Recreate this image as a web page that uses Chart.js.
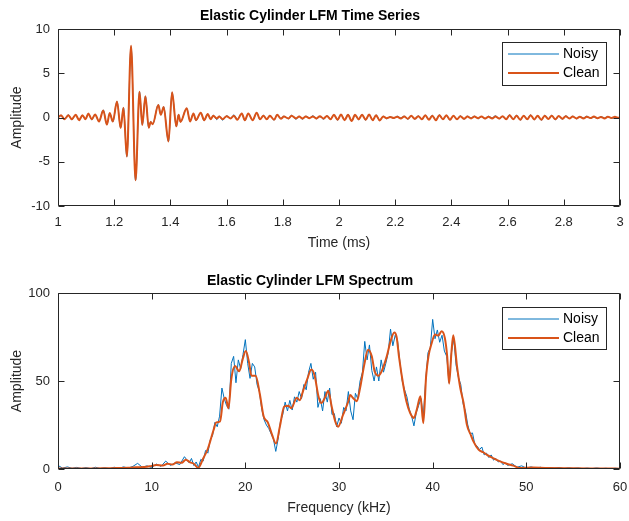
<!DOCTYPE html>
<html>
<head>
<meta charset="utf-8">
<script src="https://cdn.jsdelivr.net/npm/chart.js@4.4.1/dist/chart.umd.min.js"></script>
<style>
html, body { margin: 0; padding: 0; background: #fff; }
#wrap { position: relative; width: 629px; height: 521px; }
.panel { position: absolute; left: 0; width: 629px; }
#top { top: 0; height: 260px; }
#bot { top: 260px; height: 261px; }
</style>
</head>
<body>
<div id="wrap">
  <div class="panel" id="top"><canvas id="timeChart"></canvas></div>
  <div class="panel" id="bot"><canvas id="specChart"></canvas></div>
</div>
<script>
// ---- time series (ms / amplitude) ----
const timeMs = [
  1.000, 1.011, 1.023, 1.037, 1.049, 1.063, 1.075, 1.087, 1.098, 1.108,
  1.120, 1.132, 1.146, 1.161, 1.174, 1.184, 1.195, 1.210, 1.223, 1.233,
  1.245, 1.260, 1.276, 1.290, 1.300, 1.311, 1.323, 1.330, 1.337, 1.357,
  1.366, 1.376, 1.393, 1.406, 1.421, 1.429, 1.436, 1.458,
  1.470, 1.482, 1.491, 1.508, 1.520, 1.533, 1.543, 1.553, 1.565, 1.574,
  1.586, 1.600, 1.614, 1.626, 1.638, 1.654, 1.665, 1.677, 1.693, 1.707,
  1.719, 1.731, 1.743, 1.754, 1.769, 1.780, 1.793, 1.804, 1.820, 1.831,
  1.847, 1.858,
  1.870, 1.882, 1.895, 1.907, 1.920, 1.932, 1.945, 1.957, 1.970, 1.982,
  1.995, 2.007, 2.020, 2.032, 2.045, 2.057, 2.070, 2.082, 2.095, 2.107,
  2.120, 2.132, 2.145, 2.157, 2.170, 2.182, 2.195, 2.207, 2.220, 2.232,
  2.245, 2.257, 2.270, 2.282, 2.295, 2.307, 2.320, 2.332, 2.345, 2.357,
  2.370, 2.382, 2.395, 2.407, 2.420, 2.432, 2.445, 2.457, 2.470, 2.482,
  2.495, 2.507, 2.520, 2.532, 2.545, 2.557, 2.570, 2.582, 2.595, 2.607,
  2.620, 2.632, 2.645, 2.657, 2.670, 2.682, 2.695, 2.707, 2.720, 2.732,
  2.745, 2.757, 2.770, 2.782, 2.795, 2.807, 2.820, 2.832, 2.845, 2.857,
  2.870, 2.882, 2.895, 2.907, 2.920, 2.932, 2.945, 2.957, 2.970, 2.982,
  2.995, 3.000
];
const cleanSig = [
  0.0, 0.25, -0.2, 0.25, -0.2, 0.3, -0.3, 0.25, -0.2, 0.45,
  -0.2, 0.35, -0.45, 0.8, -0.8, 0.5, -0.45, 1.8, -1.2, 1.1,
  -4.4, 8.1, -7.1, 2.9, -0.85, 2.4, -1.15, -0.5, -0.75, 1.4,
  0.3, 1.2, -2.7, 2.85, -1.0, 0.3, -0.5, 1.05,
  -0.45, 0.45, -0.3, 0.55, -0.3, 0.4, -0.2, 0.2, -0.1, 0.1,
  -0.2, 0.15, -0.1, 0.2, -0.25, 0.45, -0.3, 0.45, -0.3, 0.55,
  -0.2, 0.2, -0.2, 0.2, -0.25, 0.3, -0.15, 0.1, -0.1, 0.2,
  -0.1, 0.1,
  -0.12, 0.1, -0.08, 0.12, -0.1, 0.15, -0.12, 0.18, -0.2, 0.3,
  -0.25, 0.35, -0.3, 0.3, -0.4, 0.3, -0.2, 0.3, -0.25, 0.35,
  -0.3, 0.25, -0.35, 0.1, -0.08, 0.05, -0.05, 0.08, -0.1, 0.12,
  -0.15, 0.2, -0.15, 0.15, -0.2, 0.25, -0.25, 0.2, -0.3, 0.25,
  -0.2, 0.25, -0.25, 0.2, -0.2, 0.15, -0.15, 0.1, -0.1, 0.1,
  -0.08, 0.12, -0.1, 0.08, -0.1, 0.12, -0.12, 0.15, -0.2, 0.25,
  -0.2, 0.2, -0.25, 0.2, -0.2, 0.25, -0.22, 0.2, -0.25, 0.2,
  -0.18, 0.2, -0.2, 0.18, -0.15, 0.15, -0.12, 0.1, -0.1, 0.08,
  -0.1, 0.08, -0.06, 0.1, -0.08, 0.06, -0.1, 0.08, -0.06, 0.08,
  -0.04, 0.0
];
const noisySig = [
  0.05, 0.2, -0.15, 0.3, -0.25, 0.3, -0.25, 0.2, -0.15, 0.45,
  -0.25, 0.3, -0.4, 0.85, -0.8, 0.5, -0.5, 1.8, -1.15, 1.1,
  -4.4, 8.0, -7.1, 2.9, -0.8, 2.4, -1.15, -0.45, -0.75, 1.45,
  0.3, 1.2, -2.7, 2.8, -1.0, 0.35, -0.5, 1.05,
  -0.4, 0.45, -0.35, 0.55, -0.35, 0.4, -0.15, 0.25, -0.25, 0.15,
  -0.3, 0.2, -0.1, 0.3, -0.2, 0.45, -0.35, 0.4, -0.3, 0.55,
  -0.25, 0.25, -0.2, 0.25, -0.3, 0.35, -0.1, 0.15, -0.15, 0.25,
  -0.2, 0.15,
  -0.2, 0.15, -0.05, 0.2, -0.15, 0.1, -0.2, 0.2, -0.15, 0.3,
  -0.3, 0.3, -0.3, 0.35, -0.4, 0.25, -0.25, 0.35, -0.3, 0.3,
  -0.3, 0.3, -0.35, 0.15, -0.15, 0.1, -0.1, 0.15, -0.05, 0.15,
  -0.2, 0.15, -0.2, 0.2, -0.25, 0.25, -0.2, 0.25, -0.3, 0.3,
  -0.2, 0.2, -0.3, 0.2, -0.15, 0.2, -0.2, 0.15, -0.05, 0.15,
  -0.15, 0.1, -0.15, 0.15, -0.05, 0.2, -0.15, 0.1, -0.2, 0.3,
  -0.15, 0.25, -0.3, 0.2, -0.15, 0.3, -0.25, 0.15, -0.3, 0.25,
  -0.15, 0.25, -0.25, 0.15, -0.2, 0.2, -0.1, 0.15, -0.15, 0.1,
  -0.05, 0.15, -0.1, 0.05, -0.12, 0.1, -0.05, 0.12, -0.1, 0.05,
  -0.08, 0.05
];
const timeTicks = [1, 1.2, 1.4, 1.6, 1.8, 2, 2.2, 2.4, 2.6, 2.8, 3];
const ampTicks = [-10, -5, 0, 5, 10];

// ---- spectrum (kHz / amplitude) ----
const freqClean = [
  0, 2, 4, 5, 6.3, 7.5, 8.4, 9.2, 9.8, 10.5,
  11.2, 11.7, 12.2, 12.7, 13.2, 13.65, 14.1, 14.5, 14.97, 15.5,
  16.0, 16.6, 16.9, 17.3, 17.6, 17.9, 18.2, 18.5, 18.9, 19.35,
  19.7, 20.05, 20.4, 20.65, 21.1, 21.55, 21.95, 22.4, 22.85, 23.27,
  23.7, 24.15, 24.6, 24.9, 25.5, 25.8, 26.2, 26.6, 27.05, 27.4,
  27.8, 28.1, 28.5, 28.85, 29.2, 29.6, 29.9, 30.45, 31.0, 31.2,
  31.5, 31.9, 32.25, 32.7, 33.1, 33.5, 33.8, 34.2, 34.55, 35.1,
  35.5, 35.9, 36.15, 36.4, 36.85, 37.2, 37.6, 38.0, 38.3, 38.7,
  39.0, 39.3, 39.55, 39.9, 40.25, 40.6, 40.95, 41.3, 41.55, 41.76,
  42.0, 42.2, 42.6, 42.95, 43.3, 43.65, 44.1, 44.35, 44.9, 45.4,
  45.8, 46.45, 47.2, 47.9, 48.6, 49.3, 50.7, 52, 55, 58,
  60
];
const specClean = [
  0.3, 0.3, 0.3, 0.4, 0.6, 0.7, 1.0, 1.1, 1.5, 2.3,
  2.0, 3.0, 2.5, 3.8, 3.5, 5.3, 3.8, 3.0, 0.6, 6.0,
  11.5, 22, 26.5, 27, 38, 40.5, 34.5, 51, 58.5, 55.5,
  62, 67, 60.5, 53, 53, 42.5, 30, 26.5, 19.5, 14.5,
  24.5, 35.5, 36, 34.5, 40.5, 39, 45, 51, 56.5, 53,
  41.5, 37.5, 40.5, 44.5, 36, 27, 24, 31, 38.5, 42,
  40.3, 38.5, 46, 59.3, 67.8, 64, 55.5, 53, 55.5, 64,
  72.5, 77.6, 75, 64, 48, 38.4, 31.8, 29, 33.7, 41.3,
  26, 52.6, 64, 71.6, 76.4, 75.8, 78.2, 74.4, 64, 48.5,
  66, 76, 58.3, 46, 37.5, 25.2, 19, 15.7, 11, 9.5,
  8, 6.2, 4.3, 3, 1.9, 0.6, 0.8, 0.6, 0.4, 0.3,
  0.2
];
const freqNoisy = [
  0, 0.5, 1, 1.5, 2, 2.5, 3, 3.5, 4, 4.5,
  5, 5.5, 6, 6.5, 7, 7.5, 8, 8.5, 9, 9.5,
  10, 10.5, 11, 11.5, 12, 12.5, 13, 13.5, 14, 14.25,
  14.5, 14.75, 15, 15.25, 15.5, 15.75, 16, 16.25, 16.5, 16.75,
  17, 17.25, 17.5, 17.75, 18, 18.25, 18.5, 18.75, 19, 19.25,
  19.5, 19.75, 20, 20.25, 20.5, 20.75, 21, 21.25, 21.5, 21.75,
  22, 22.25, 22.5, 22.75, 23, 23.25, 23.5, 23.75, 24, 24.25,
  24.5, 24.75, 25, 25.25, 25.5, 25.75, 26, 26.25, 26.5, 26.75,
  27, 27.25, 27.5, 27.75, 28, 28.25, 28.5, 28.75, 29, 29.25,
  29.5, 29.75, 30, 30.25, 30.5, 30.75, 31, 31.25, 31.5, 31.75,
  32, 32.25, 32.5, 32.75, 33, 33.25, 33.5, 33.75, 34, 34.25,
  34.5, 34.75, 35, 35.25, 35.5, 35.75, 36, 36.25, 36.5, 36.75,
  37, 37.25, 37.5, 37.75, 38, 38.25, 38.5, 38.75, 39, 39.25,
  39.5, 39.75, 40, 40.25, 40.5, 40.75, 41, 41.25, 41.5, 41.75,
  42, 42.25, 42.5, 42.75, 43, 43.25, 43.5, 43.75, 44, 44.25,
  44.5, 44.75, 45, 45.25, 45.5, 45.75, 46, 46.25, 46.5, 46.75,
  47, 47.25, 47.5, 47.75, 48, 48.5, 49, 49.5, 50, 50.5,
  51, 51.5, 52, 52.5, 53, 53.5, 54, 54.5, 55, 55.5,
  56, 56.5, 57, 57.5, 58, 58.5, 59, 59.5, 60
];
const specNoisy = [
  2.0, 0.5, 1.2, 0.4, 0.9, 0.3, 0.8, 0.2, 1.0, 0.3,
  0.7, 0.2, 1.0, 0.4, 1.2, 0.5, 1.5, 3.2, 1.0, 1.8,
  0.8, 2.8, 1.5, 4.5, 2.0, 3.5, 2.5, 7.0, 3.5, 6.0,
  2.0, 4.0, 1.0, 5.5, 4.5, 10.5, 9.0, 16.5, 19.0, 26.5,
  24.0, 30.0, 46.0, 40.0, 36.0, 34.0, 60.0, 64.0, 49.0, 62.0,
  57.0, 65.0, 73.5, 60.0, 51.5, 60.0, 58.0, 48.0, 44.0, 34.0,
  28.0, 25.0, 23.0, 20.0, 17.0, 10.0, 17.0, 27.0, 31.0, 38.0,
  33.0, 39.0, 33.5, 41.0, 38.0, 44.0, 40.0, 48.0, 45.0, 55.0,
  60.0, 51.0, 55.0, 35.0, 40.0, 33.0, 44.0, 38.0, 46.0, 31.0,
  31.5, 24.0, 29.0, 26.0, 35.0, 33.0, 44.0, 33.0, 28.0, 43.0,
  40.0, 50.0, 55.0, 72.5, 62.0, 70.5, 56.0, 50.0, 58.0, 50.0,
  62.0, 55.0, 60.0, 66.0, 79.5, 70.0, 76.0, 73.0, 61.0, 50.0,
  45.0, 41.0, 34.0, 30.0, 24.5, 32.0, 36.0, 40.0, 30.0, 50.0,
  66.0, 69.0, 85.0, 74.0, 79.0, 72.0, 76.0, 67.0, 64.0, 49.0,
  66.0, 74.0, 59.0, 52.0, 48.0, 37.0, 33.0, 25.0, 20.0, 20.5,
  14.0, 13.0, 11.0, 12.5, 8.0, 9.0, 6.5, 8.0, 5.0, 6.0,
  4.0, 4.5, 2.5, 3.5, 2.0, 3.0, 1.0, 1.8, 0.5, 1.2,
  0.4, 1.0, 0.3, 0.8, 0.5, 0.9, 0.2, 0.7, 0.3, 0.6,
  0.2, 0.5, 0.2, 0.6, 0.2, 0.4, 0.1, 0.4, 0.2
];
const freqTicks = [0, 10, 20, 30, 40, 50, 60];
const specAmpTicks = [0, 50, 100];

const BLUE = '#0072BD';
const ORANGE = '#D95319';
const AXIS = '#262626';
const FONT = '"Liberation Sans", Arial, Helvetica, sans-serif';

Chart.defaults.font.family = FONT;
Chart.defaults.color = AXIS;

function pairs(xs, ys) {
  return xs.map((x, i) => ({ x: x, y: ys[i] }));
}

// box round the axes, inward ticks on all four sides, legend inside the axes
const matlabAxes = {
  id: 'matlabAxes',
  afterDraw(chart, args, opts) {
    const { ctx, chartArea: a, scales } = chart;
    const L = Math.round(a.left) + 0.5, R = Math.round(a.right) - 0.5;
    const T = Math.round(a.top) + 0.5, B = Math.round(a.bottom) - 0.5;
    const tl = 6;
    ctx.save();
    ctx.strokeStyle = AXIS;
    ctx.lineWidth = 1;
    ctx.beginPath();
    ctx.rect(L, T, R - L, B - T);
    scales.x.ticks.forEach(t => {
      const px = Math.round(scales.x.getPixelForValue(t.value)) + 0.5;
      ctx.moveTo(px, B); ctx.lineTo(px, B - tl);
      ctx.moveTo(px, T); ctx.lineTo(px, T + tl);
    });
    scales.y.ticks.forEach(t => {
      const py = Math.round(scales.y.getPixelForValue(t.value)) + 0.5;
      ctx.moveTo(L, py); ctx.lineTo(L + tl, py);
      ctx.moveTo(R, py); ctx.lineTo(R - tl, py);
    });
    ctx.stroke();

    const lg = opts.legend;
    ctx.fillStyle = '#fff';
    ctx.fillRect(lg.left, lg.top, lg.width, lg.height);
    ctx.strokeRect(lg.left + 0.5, lg.top + 0.5, lg.width, lg.height);
    ctx.font = '14px ' + FONT;
    ctx.textBaseline = 'middle';
    ctx.textAlign = 'left';
    chart.data.datasets.forEach((ds, i) => {
      const yy = lg.top + lg.rows[i];
      ctx.strokeStyle = ds.borderColor;
      ctx.lineWidth = ds.borderWidth;
      ctx.beginPath();
      ctx.moveTo(lg.left + 6, yy);
      ctx.lineTo(lg.left + 57, yy);
      ctx.stroke();
      ctx.fillStyle = '#000';
      ctx.fillText(ds.label, lg.left + 61, yy);
    });
    ctx.restore();
  }
};

function axisOpts(tickList, min, max, pad, extra) {
  return Object.assign({
    type: 'linear',
    min: min,
    max: max,
    afterBuildTicks: s => { s.ticks = tickList.map(v => ({ value: v })); },
    grid: { display: false, drawTicks: false },
    border: { display: false },
    ticks: { font: { size: 13 }, color: AXIS, padding: pad, maxRotation: 0, autoSkip: false,
             callback: v => String(v) }
  }, extra);
}

// fixed box sizes so the plot area lands where the reference has it
function fixX(h) {
  return s => { s.height = h; s.paddingLeft = 0; s.paddingRight = 0; };
}
function fixY(w) {
  return s => { s.width = w; s.paddingTop = 0; s.paddingBottom = 0; };
}

new Chart(document.getElementById('timeChart'), {
  type: 'line',
  data: {
    datasets: [
      { label: 'Noisy', data: pairs(timeMs, noisySig), borderColor: BLUE, borderWidth: 1,
        pointRadius: 0, cubicInterpolationMode: 'monotone', order: 1 },
      { label: 'Clean', data: pairs(timeMs, cleanSig), borderColor: ORANGE, borderWidth: 2,
        pointRadius: 0, cubicInterpolationMode: 'monotone', order: 0 }
    ]
  },
  options: {
    responsive: true,
    maintainAspectRatio: false,
    animation: false,
    devicePixelRatio: 1,
    layout: { padding: { left: 0, right: 9, top: 0, bottom: 0 } },
    plugins: {
      legend: { display: false },
      tooltip: { enabled: false },
      title: { display: true, text: 'Elastic Cylinder LFM Time Series', color: '#000',
               font: { size: 14, weight: 'bold' }, padding: { top: 8, bottom: 4.2 } },
      matlabAxes: { legend: { left: 502, top: 42, width: 104, height: 43, rows: [12, 31] } }
    },
    scales: {
      x: axisOpts(timeTicks, 1, 3, 9, {
        afterFit: fixX(54),
        title: { display: true, text: 'Time (ms)', color: AXIS, font: { size: 14 }, padding: { bottom: 8 } }
      }),
      y: axisOpts(ampTicks, -10, 10, 8, {
        afterFit: fixY(58),
        title: { display: true, text: 'Amplitude', color: AXIS, font: { size: 14 }, padding: { top: 9 } }
      })
    }
  },
  plugins: [matlabAxes]
});

new Chart(document.getElementById('specChart'), {
  type: 'line',
  data: {
    datasets: [
      { label: 'Noisy', data: pairs(freqNoisy, specNoisy), borderColor: BLUE, borderWidth: 1,
        pointRadius: 0, tension: 0, order: 1 },
      { label: 'Clean', data: pairs(freqClean, specClean), borderColor: ORANGE, borderWidth: 2,
        pointRadius: 0, cubicInterpolationMode: 'monotone', order: 0 }
    ]
  },
  options: {
    responsive: true,
    maintainAspectRatio: false,
    animation: false,
    devicePixelRatio: 1,
    layout: { padding: { left: 0, right: 9, top: 0, bottom: 0 } },
    plugins: {
      legend: { display: false },
      tooltip: { enabled: false },
      title: { display: true, text: 'Elastic Cylinder LFM Spectrum', color: '#000',
               font: { size: 14, weight: 'bold' }, padding: { top: 12.6, bottom: 3.6 } },
      matlabAxes: { legend: { left: 502, top: 47, width: 104, height: 42, rows: [12, 31] } }
    },
    scales: {
      x: axisOpts(freqTicks, 0, 60, 11, {
        afterFit: fixX(52),
        title: { display: true, text: 'Frequency (kHz)', color: AXIS, font: { size: 14 }, padding: { bottom: 4 } }
      }),
      y: axisOpts(specAmpTicks, 0, 100, 8, {
        afterFit: fixY(58),
        title: { display: true, text: 'Amplitude', color: AXIS, font: { size: 14 }, padding: { top: 9 } }
      })
    }
  },
  plugins: [matlabAxes]
});
</script>
</body>
</html>
